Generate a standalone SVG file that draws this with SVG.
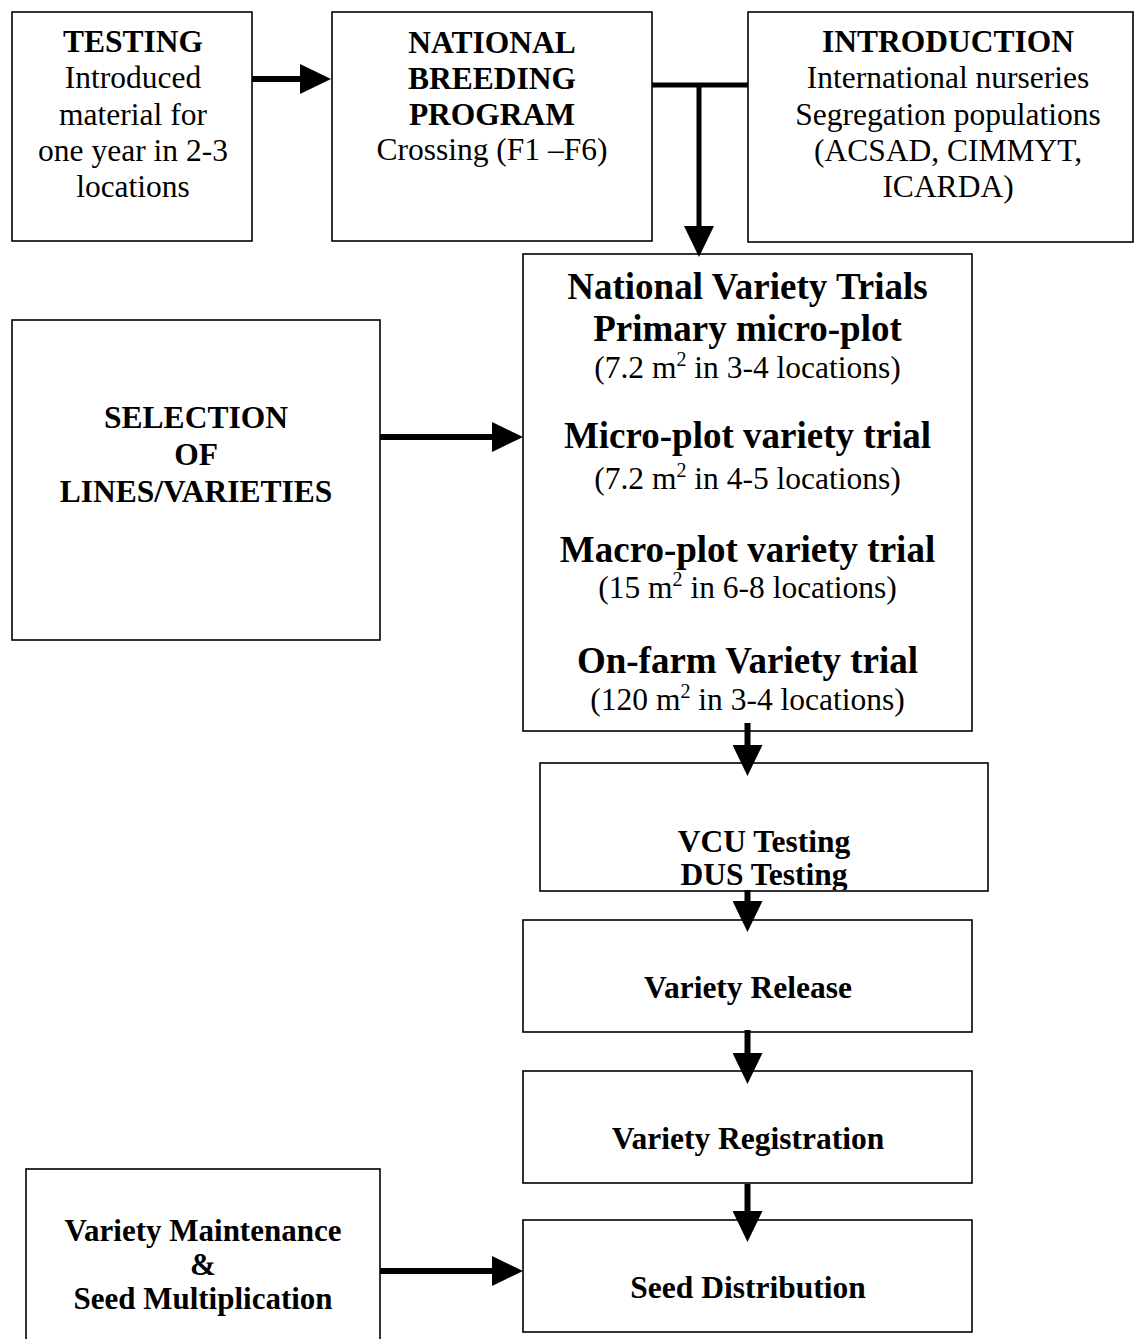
<svg xmlns="http://www.w3.org/2000/svg" width="1134" height="1339" viewBox="0 0 1134 1339">
<style>
  .box { fill: #ffffff; stroke: #000000; stroke-width: 1.6; }
  text { font-family: "Liberation Serif", "Times New Roman", serif; fill: #000000; text-anchor: middle; }
  .b { font-weight: bold; font-size: 31.5px; }
  .r { font-size: 31.5px; }
  .bl { font-weight: bold; font-size: 37px; }
  .bm { font-weight: bold; font-size: 31px; }
  .sup { font-size: 20px; }
  .conn { stroke: #000000; stroke-width: 6; fill: none; }
  .thin { stroke: #000000; stroke-width: 5; fill: none; }
</style>
<defs>
  <marker id="ah" markerUnits="userSpaceOnUse" markerWidth="31" markerHeight="30" viewBox="0 0 31 30" refX="1" refY="15" orient="auto">
    <polygon points="0,0 31,15 0,30" fill="#000000"/>
  </marker>
  <clipPath id="vcuclip"><rect x="541" y="764" width="446" height="126"/></clipPath>
</defs>
<rect width="1134" height="1339" fill="#ffffff"/>

<g id="testing">
  <rect class="box" x="12" y="12" width="240" height="229"/>
  <text class="b" x="133" y="52">TESTING</text>
  <text class="r" x="133" y="88">Introduced</text>
  <text class="r" x="133" y="125">material for</text>
  <text class="r" x="133" y="161">one year in 2-3</text>
  <text class="r" x="133" y="197">locations</text>
</g>

<g id="national-breeding-program">
  <rect class="box" x="332" y="12" width="320" height="229"/>
  <text class="b" x="492" y="53">NATIONAL</text>
  <text class="b" x="492" y="89">BREEDING</text>
  <text class="b" x="492" y="125">PROGRAM</text>
  <text class="r" x="492" y="160">Crossing (F1 –F6)</text>
</g>

<g id="introduction">
  <rect class="box" x="748" y="12" width="385" height="230"/>
  <text class="b" x="948" y="52">INTRODUCTION</text>
  <text class="r" x="948" y="88">International nurseries</text>
  <text class="r" x="948" y="125">Segregation populations</text>
  <text class="r" x="948" y="161">(ACSAD, CIMMYT,</text>
  <text class="r" x="948" y="197">ICARDA)</text>
</g>

<g id="national-variety-trials">
  <rect class="box" x="523" y="254" width="449" height="477"/>
  <text class="bl" x="747.5" y="299">National Variety Trials</text>
  <text class="bl" x="747.5" y="341">Primary micro-plot</text>
  <text class="r" x="747.5" y="378">(7.2 m<tspan class="sup" dy="-12">2</tspan><tspan dy="12"> in 3-4 locations)</tspan></text>
  <text class="bl" x="747.5" y="448">Micro-plot variety trial</text>
  <text class="r" x="747.5" y="489">(7.2 m<tspan class="sup" dy="-12">2</tspan><tspan dy="12"> in 4-5 locations)</tspan></text>
  <text class="bl" x="747.5" y="562">Macro-plot variety trial</text>
  <text class="r" x="747.5" y="598">(15 m<tspan class="sup" dy="-12">2</tspan><tspan dy="12"> in 6-8 locations)</tspan></text>
  <text class="bl" x="747.5" y="673">On-farm Variety trial</text>
  <text class="r" x="747.5" y="710">(120 m<tspan class="sup" dy="-12">2</tspan><tspan dy="12"> in 3-4 locations)</tspan></text>
</g>

<g id="selection">
  <rect class="box" x="12" y="320" width="368" height="320"/>
  <text class="b" x="196" y="428">SELECTION</text>
  <text class="b" x="196" y="465">OF</text>
  <text class="b" x="196" y="502">LINES/VARIETIES</text>
</g>

<g id="vcu-dus">
  <rect class="box" x="540" y="763" width="448" height="128"/>
  <g clip-path="url(#vcuclip)">
    <text class="b" x="764" y="852">VCU Testing</text>
    <text class="b" x="764" y="885">DUS Testing</text>
  </g>
</g>

<g id="variety-release">
  <rect class="box" x="523" y="920" width="449" height="112"/>
  <text class="b" x="748" y="998">Variety Release</text>
</g>

<g id="variety-registration">
  <rect class="box" x="523" y="1071" width="449" height="112"/>
  <text class="b" x="748" y="1149">Variety Registration</text>
</g>

<g id="seed-distribution">
  <rect class="box" x="523" y="1220" width="449" height="112"/>
  <text class="b" x="748" y="1298">Seed Distribution</text>
</g>

<g id="variety-maintenance">
  <rect class="box" x="26" y="1169" width="354" height="190"/>
  <text class="bm" x="203" y="1241">Variety Maintenance</text>
  <text class="bm" x="203" y="1275">&amp;</text>
  <text class="bm" x="203" y="1309">Seed Multiplication</text>
</g>

<g id="connectors">
  <line class="conn" x1="252" y1="79" x2="301" y2="79" marker-end="url(#ah)"/>
  <line class="thin" x1="652" y1="85" x2="748" y2="85"/>
  <line class="thin" x1="699" y1="85" x2="699" y2="227" marker-end="url(#ah)"/>
  <line class="conn" x1="380" y1="437" x2="493" y2="437" marker-end="url(#ah)"/>
  <line class="conn" x1="747.5" y1="723" x2="747.5" y2="746" marker-end="url(#ah)"/>
  <line class="conn" x1="747.5" y1="890" x2="747.5" y2="902" marker-end="url(#ah)"/>
  <line class="conn" x1="747.5" y1="1030" x2="747.5" y2="1054" marker-end="url(#ah)"/>
  <line class="conn" x1="747.5" y1="1184" x2="747.5" y2="1212" marker-end="url(#ah)"/>
  <line class="conn" x1="380" y1="1271" x2="493" y2="1271" marker-end="url(#ah)"/>
</g>
</svg>
